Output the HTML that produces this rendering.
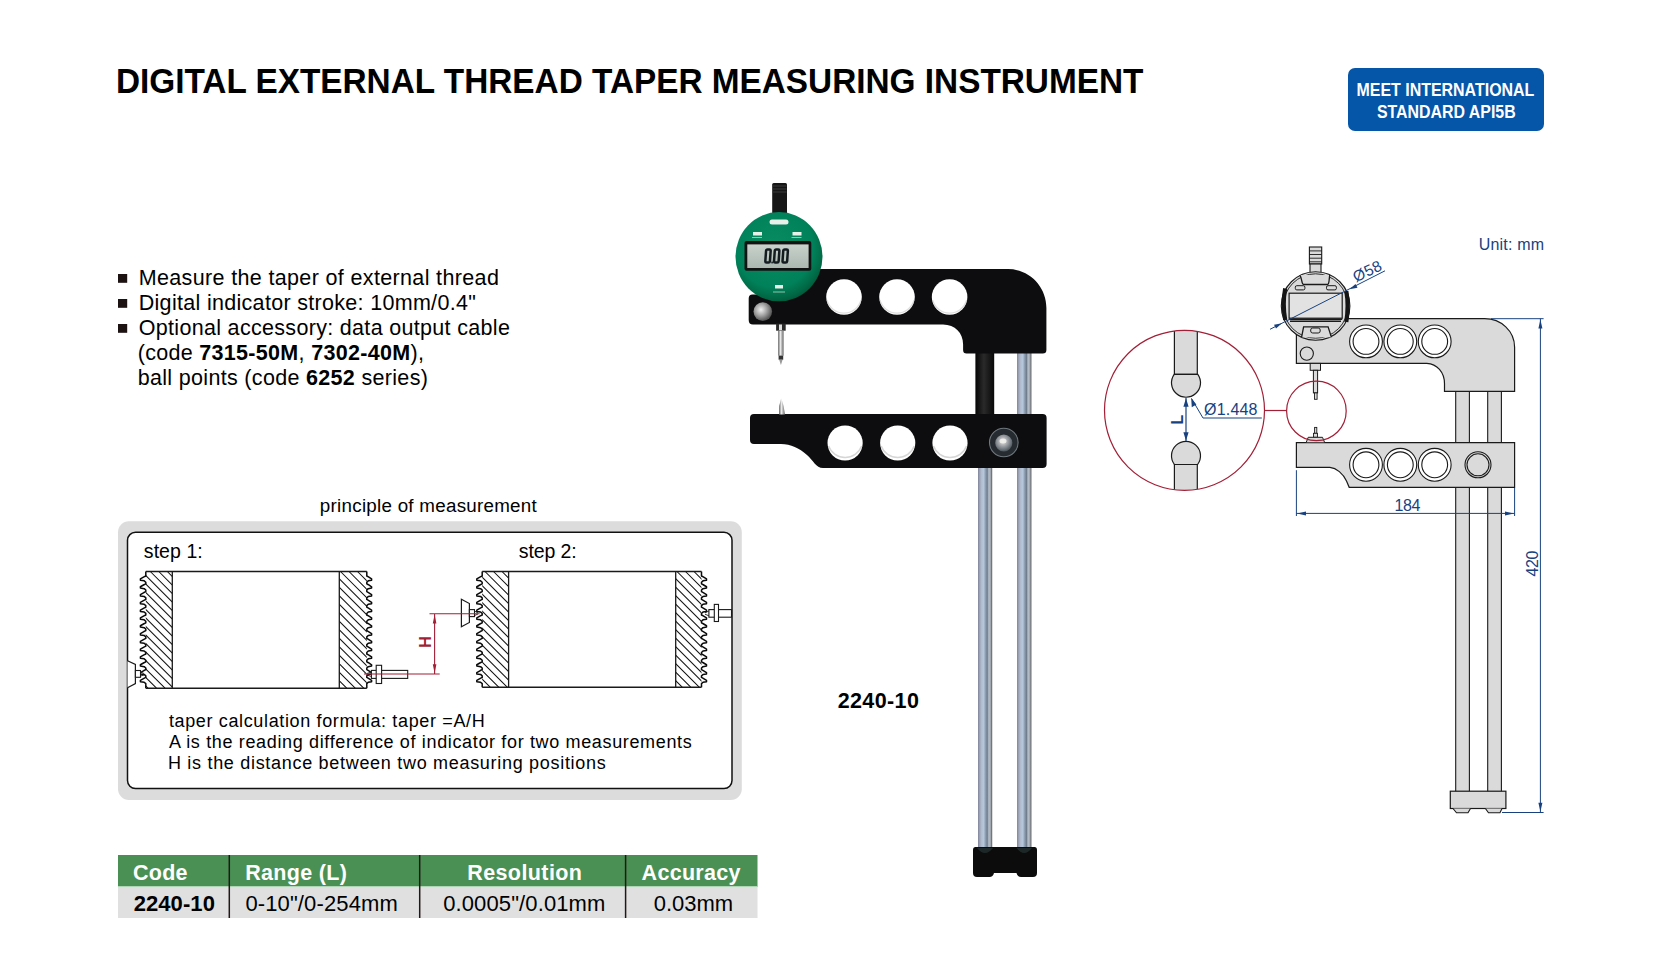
<!DOCTYPE html>
<html><head><meta charset="utf-8"><style>
html,body{margin:0;padding:0;background:#fff;overflow:hidden;width:1654px;height:964px;}
svg{display:block;font-family:"Liberation Sans", sans-serif;}
</style></head><body>
<svg width="1654" height="964" viewBox="0 0 1654 964">
<defs>
<linearGradient id="chrome" x1="0" y1="0" x2="1" y2="0">
 <stop offset="0" stop-color="#80839a"/><stop offset="0.12" stop-color="#9ea4b6"/>
 <stop offset="0.25" stop-color="#b2bdd0"/><stop offset="0.4" stop-color="#b6c8dc"/>
 <stop offset="0.5" stop-color="#94a4b8"/><stop offset="0.65" stop-color="#6f7d8d"/>
 <stop offset="0.76" stop-color="#b8c0cc"/><stop offset="0.88" stop-color="#a0a6ae"/>
 <stop offset="0.95" stop-color="#6e7276"/><stop offset="1" stop-color="#8a8a8a"/></linearGradient>
<linearGradient id="blackcol" x1="0" y1="0" x2="1" y2="0">
 <stop offset="0" stop-color="#050505"/><stop offset="0.45" stop-color="#2a2a2a"/><stop offset="1" stop-color="#080808"/></linearGradient>
<radialGradient id="dialg" cx="0.45" cy="0.4" r="0.62">
 <stop offset="0" stop-color="#0a8c62"/><stop offset="0.72" stop-color="#008159"/><stop offset="0.9" stop-color="#006a46"/><stop offset="1" stop-color="#00583a"/></radialGradient>
<linearGradient id="lcd" x1="0" y1="0" x2="0" y2="1">
 <stop offset="0" stop-color="#c9d2cc"/><stop offset="1" stop-color="#aab8b0"/></linearGradient>
<radialGradient id="screw" cx="0.4" cy="0.4" r="0.6">
 <stop offset="0" stop-color="#f0f0f0"/><stop offset="0.5" stop-color="#a8a8a8"/><stop offset="1" stop-color="#555"/></radialGradient>
<radialGradient id="bolt" cx="0.5" cy="0.5" r="0.5">
 <stop offset="0" stop-color="#c8c8c8"/><stop offset="0.45" stop-color="#8a8a8a"/><stop offset="0.8" stop-color="#3a3a3a"/><stop offset="1" stop-color="#6a6a6a"/></radialGradient>
<radialGradient id="bolt2" cx="0.45" cy="0.4" r="0.6">
 <stop offset="0" stop-color="#e8e6e0"/><stop offset="0.5" stop-color="#9a9ea4"/><stop offset="1" stop-color="#4c555c"/></radialGradient>
<linearGradient id="pin" x1="0" y1="0" x2="1" y2="0">
 <stop offset="0" stop-color="#555"/><stop offset="0.4" stop-color="#eee"/><stop offset="1" stop-color="#666"/></linearGradient>
</defs>
<text x="115.93" y="92.8" font-size="34.5" font-weight="bold" textLength="1027.45" lengthAdjust="spacingAndGlyphs">DIGITAL EXTERNAL THREAD TAPER MEASURING INSTRUMENT</text>
<rect x="1348" y="68" width="196" height="63" rx="7" fill="#0555a8"/>
<text x="1356.49" y="95.6" font-size="18.5" font-weight="bold" fill="#fff" textLength="177.85" lengthAdjust="spacingAndGlyphs">MEET INTERNATIONAL</text>
<text x="1376.89" y="118.4" font-size="18.5" font-weight="bold" fill="#fff" textLength="138.85" lengthAdjust="spacingAndGlyphs">STANDARD API5B</text>
<rect x="118" y="274" width="9.2" height="8.8" fill="#1c1212"/>
<rect x="118" y="299" width="9.2" height="8.8" fill="#1c1212"/>
<rect x="118" y="324" width="9.2" height="8.8" fill="#1c1212"/>
<text x="138.71" y="284.9" font-size="21.5" textLength="360.15" lengthAdjust="spacing">Measure the taper of external thread</text>
<text x="138.71" y="309.7" font-size="21.5" textLength="337.15" lengthAdjust="spacing">Digital indicator stroke: 10mm/0.4"</text>
<text x="138.71" y="334.6" font-size="21.5" textLength="371.15" lengthAdjust="spacing">Optional accessory: data output cable</text>
<text x="137.71" y="359.7" font-size="21.5" textLength="286.15" lengthAdjust="spacing">(code <tspan font-weight="bold">7315-50M</tspan>, <tspan font-weight="bold">7302-40M</tspan>),</text>
<text x="137.71" y="384.8" font-size="21.5" textLength="290.15" lengthAdjust="spacing">ball points (code <tspan font-weight="bold">6252</tspan> series)</text>
<text x="319.87" y="511.5" font-size="18.8" textLength="216.88" lengthAdjust="spacing">principle of measurement</text>
<rect x="118" y="521.2" width="623.8" height="278.8" rx="11" fill="#dcdcdc"/>
<rect x="127.5" y="532.3" width="604.5" height="256.3" rx="8" fill="#fff" stroke="#111" stroke-width="1.5"/>
<text x="143.83" y="557.6" font-size="19.5" textLength="58.95" lengthAdjust="spacing">step 1:</text>
<text x="518.83" y="557.6" font-size="19.5" textLength="57.95" lengthAdjust="spacing">step 2:</text>
<text x="168.92" y="726.5" font-size="18" textLength="315.8" lengthAdjust="spacing">taper calculation formula: taper =A/H</text>
<text x="168.92" y="747.5" font-size="18" textLength="522.8" lengthAdjust="spacing">A is the reading difference of indicator for two measurements</text>
<text x="167.92" y="769.3" font-size="18" textLength="437.8" lengthAdjust="spacing">H is the distance between two measuring positions</text>
<clipPath id="w1"><rect x="145.8" y="571.5" width="26.5" height="116.7"/></clipPath>
<path clip-path="url(#w1)" d="M22.8,571.5 l116.7,116.7 M31.3,571.5 l116.7,116.7 M39.8,571.5 l116.7,116.7 M48.3,571.5 l116.7,116.7 M56.8,571.5 l116.7,116.7 M65.3,571.5 l116.7,116.7 M73.8,571.5 l116.7,116.7 M82.3,571.5 l116.7,116.7 M90.8,571.5 l116.7,116.7 M99.3,571.5 l116.7,116.7 M107.8,571.5 l116.7,116.7 M116.3,571.5 l116.7,116.7 M124.8,571.5 l116.7,116.7 M133.3,571.5 l116.7,116.7 M141.8,571.5 l116.7,116.7 M150.3,571.5 l116.7,116.7 M158.8,571.5 l116.7,116.7 M167.3,571.5 l116.7,116.7" stroke="#111" stroke-width="1.05" fill="none"/>
<line x1="172.3" y1="571.5" x2="172.3" y2="688.2" stroke="#1a1a1a" stroke-width="1.3"/>
<path d="M145.8,571.5 L145.8,576 L143.91,576.94 L140.4,578.96 L140.4,580.29 L144.18,580.84 L145.8,582.24 L145.8,583.8 L143.91,584.74 L140.4,586.76 L140.4,588.09 L144.18,588.64 L145.8,590.04 L145.8,591.6 L143.91,592.54 L140.4,594.56 L140.4,595.89 L144.18,596.44 L145.8,597.84 L145.8,599.4 L143.91,600.34 L140.4,602.36 L140.4,603.69 L144.18,604.24 L145.8,605.64 L145.8,607.2 L143.91,608.14 L140.4,610.16 L140.4,611.49 L144.18,612.04 L145.8,613.44 L145.8,615 L143.91,615.94 L140.4,617.96 L140.4,619.29 L144.18,619.84 L145.8,621.24 L145.8,622.8 L143.91,623.74 L140.4,625.76 L140.4,627.09 L144.18,627.64 L145.8,629.04 L145.8,630.6 L143.91,631.54 L140.4,633.56 L140.4,634.89 L144.18,635.44 L145.8,636.84 L145.8,638.4 L143.91,639.34 L140.4,641.36 L140.4,642.69 L144.18,643.24 L145.8,644.64 L145.8,646.2 L143.91,647.14 L140.4,649.16 L140.4,650.49 L144.18,651.04 L145.8,652.44 L145.8,654 L143.91,654.94 L140.4,656.96 L140.4,658.29 L144.18,658.84 L145.8,660.24 L145.8,661.8 L143.91,662.74 L140.4,664.76 L140.4,666.09 L144.18,666.64 L145.8,668.04 L145.8,669.6 L143.91,670.54 L140.4,672.56 L140.4,673.89 L144.18,674.44 L145.8,675.84 L145.8,677.4 L143.91,678.34 L140.4,680.36 L140.4,681.69 L144.18,682.24 L145.8,683.64 L145.8,686.2 L145.8,688.2" stroke="#0a0a0a" stroke-width="1.5" fill="none" stroke-linejoin="round"/>
<clipPath id="w2"><rect x="339.3" y="571.5" width="27.5" height="116.7"/></clipPath>
<path clip-path="url(#w2)" d="M213,571.5 l116.7,116.7 M221.5,571.5 l116.7,116.7 M230,571.5 l116.7,116.7 M238.5,571.5 l116.7,116.7 M247,571.5 l116.7,116.7 M255.5,571.5 l116.7,116.7 M264,571.5 l116.7,116.7 M272.5,571.5 l116.7,116.7 M281,571.5 l116.7,116.7 M289.5,571.5 l116.7,116.7 M298,571.5 l116.7,116.7 M306.5,571.5 l116.7,116.7 M315,571.5 l116.7,116.7 M323.5,571.5 l116.7,116.7 M332,571.5 l116.7,116.7 M340.5,571.5 l116.7,116.7 M349,571.5 l116.7,116.7 M357.5,571.5 l116.7,116.7 M366,571.5 l116.7,116.7" stroke="#111" stroke-width="1.05" fill="none"/>
<line x1="339.3" y1="571.5" x2="339.3" y2="688.2" stroke="#1a1a1a" stroke-width="1.3"/>
<path d="M366.8,571.5 L366.8,576 L368.48,576.94 L371.6,578.96 L371.6,580.29 L368.24,580.84 L366.8,582.24 L366.8,583.8 L368.48,584.74 L371.6,586.76 L371.6,588.09 L368.24,588.64 L366.8,590.04 L366.8,591.6 L368.48,592.54 L371.6,594.56 L371.6,595.89 L368.24,596.44 L366.8,597.84 L366.8,599.4 L368.48,600.34 L371.6,602.36 L371.6,603.69 L368.24,604.24 L366.8,605.64 L366.8,607.2 L368.48,608.14 L371.6,610.16 L371.6,611.49 L368.24,612.04 L366.8,613.44 L366.8,615 L368.48,615.94 L371.6,617.96 L371.6,619.29 L368.24,619.84 L366.8,621.24 L366.8,622.8 L368.48,623.74 L371.6,625.76 L371.6,627.09 L368.24,627.64 L366.8,629.04 L366.8,630.6 L368.48,631.54 L371.6,633.56 L371.6,634.89 L368.24,635.44 L366.8,636.84 L366.8,638.4 L368.48,639.34 L371.6,641.36 L371.6,642.69 L368.24,643.24 L366.8,644.64 L366.8,646.2 L368.48,647.14 L371.6,649.16 L371.6,650.49 L368.24,651.04 L366.8,652.44 L366.8,654 L368.48,654.94 L371.6,656.96 L371.6,658.29 L368.24,658.84 L366.8,660.24 L366.8,661.8 L368.48,662.74 L371.6,664.76 L371.6,666.09 L368.24,666.64 L366.8,668.04 L366.8,669.6 L368.48,670.54 L371.6,672.56 L371.6,673.89 L368.24,674.44 L366.8,675.84 L366.8,677.4 L368.48,678.34 L371.6,680.36 L371.6,681.69 L368.24,682.24 L366.8,683.64 L366.8,686.2 L366.8,688.2" stroke="#0a0a0a" stroke-width="1.5" fill="none" stroke-linejoin="round"/>
<path d="M145.8,571.5 H366.8 M145.8,688.2 H366.8" stroke="#1a1a1a" stroke-width="1.4"/>
<clipPath id="w3"><rect x="482.2" y="571.5" width="26.4" height="115.7"/></clipPath>
<path clip-path="url(#w3)" d="M357.5,571.5 l115.7,115.7 M366,571.5 l115.7,115.7 M374.5,571.5 l115.7,115.7 M383,571.5 l115.7,115.7 M391.5,571.5 l115.7,115.7 M400,571.5 l115.7,115.7 M408.5,571.5 l115.7,115.7 M417,571.5 l115.7,115.7 M425.5,571.5 l115.7,115.7 M434,571.5 l115.7,115.7 M442.5,571.5 l115.7,115.7 M451,571.5 l115.7,115.7 M459.5,571.5 l115.7,115.7 M468,571.5 l115.7,115.7 M476.5,571.5 l115.7,115.7 M485,571.5 l115.7,115.7 M493.5,571.5 l115.7,115.7 M502,571.5 l115.7,115.7 M510.5,571.5 l115.7,115.7" stroke="#111" stroke-width="1.05" fill="none"/>
<line x1="508.6" y1="571.5" x2="508.6" y2="687.2" stroke="#1a1a1a" stroke-width="1.3"/>
<path d="M482.2,571.5 L482.2,576 L480.31,576.94 L476.8,578.96 L476.8,580.29 L480.58,580.84 L482.2,582.24 L482.2,583.8 L480.31,584.74 L476.8,586.76 L476.8,588.09 L480.58,588.64 L482.2,590.04 L482.2,591.6 L480.31,592.54 L476.8,594.56 L476.8,595.89 L480.58,596.44 L482.2,597.84 L482.2,599.4 L480.31,600.34 L476.8,602.36 L476.8,603.69 L480.58,604.24 L482.2,605.64 L482.2,607.2 L480.31,608.14 L476.8,610.16 L476.8,611.49 L480.58,612.04 L482.2,613.44 L482.2,615 L480.31,615.94 L476.8,617.96 L476.8,619.29 L480.58,619.84 L482.2,621.24 L482.2,622.8 L480.31,623.74 L476.8,625.76 L476.8,627.09 L480.58,627.64 L482.2,629.04 L482.2,630.6 L480.31,631.54 L476.8,633.56 L476.8,634.89 L480.58,635.44 L482.2,636.84 L482.2,638.4 L480.31,639.34 L476.8,641.36 L476.8,642.69 L480.58,643.24 L482.2,644.64 L482.2,646.2 L480.31,647.14 L476.8,649.16 L476.8,650.49 L480.58,651.04 L482.2,652.44 L482.2,654 L480.31,654.94 L476.8,656.96 L476.8,658.29 L480.58,658.84 L482.2,660.24 L482.2,661.8 L480.31,662.74 L476.8,664.76 L476.8,666.09 L480.58,666.64 L482.2,668.04 L482.2,669.6 L480.31,670.54 L476.8,672.56 L476.8,673.89 L480.58,674.44 L482.2,675.84 L482.2,677.4 L480.31,678.34 L476.8,680.36 L476.8,681.69 L480.58,682.24 L482.2,683.64 L482.2,685.2 L482.2,687.2" stroke="#0a0a0a" stroke-width="1.5" fill="none" stroke-linejoin="round"/>
<clipPath id="w4"><rect x="675.7" y="571.5" width="25.8" height="115.7"/></clipPath>
<path clip-path="url(#w4)" d="M558,571.5 l115.7,115.7 M566.5,571.5 l115.7,115.7 M575,571.5 l115.7,115.7 M583.5,571.5 l115.7,115.7 M592,571.5 l115.7,115.7 M600.5,571.5 l115.7,115.7 M609,571.5 l115.7,115.7 M617.5,571.5 l115.7,115.7 M626,571.5 l115.7,115.7 M634.5,571.5 l115.7,115.7 M643,571.5 l115.7,115.7 M651.5,571.5 l115.7,115.7 M660,571.5 l115.7,115.7 M668.5,571.5 l115.7,115.7 M677,571.5 l115.7,115.7 M685.5,571.5 l115.7,115.7 M694,571.5 l115.7,115.7 M702.5,571.5 l115.7,115.7" stroke="#111" stroke-width="1.05" fill="none"/>
<line x1="675.7" y1="571.5" x2="675.7" y2="687.2" stroke="#1a1a1a" stroke-width="1.3"/>
<path d="M701.5,571.5 L701.5,576 L703.25,576.94 L706.5,578.96 L706.5,580.29 L703,580.84 L701.5,582.24 L701.5,583.8 L703.25,584.74 L706.5,586.76 L706.5,588.09 L703,588.64 L701.5,590.04 L701.5,591.6 L703.25,592.54 L706.5,594.56 L706.5,595.89 L703,596.44 L701.5,597.84 L701.5,599.4 L703.25,600.34 L706.5,602.36 L706.5,603.69 L703,604.24 L701.5,605.64 L701.5,607.2 L703.25,608.14 L706.5,610.16 L706.5,611.49 L703,612.04 L701.5,613.44 L701.5,615 L703.25,615.94 L706.5,617.96 L706.5,619.29 L703,619.84 L701.5,621.24 L701.5,622.8 L703.25,623.74 L706.5,625.76 L706.5,627.09 L703,627.64 L701.5,629.04 L701.5,630.6 L703.25,631.54 L706.5,633.56 L706.5,634.89 L703,635.44 L701.5,636.84 L701.5,638.4 L703.25,639.34 L706.5,641.36 L706.5,642.69 L703,643.24 L701.5,644.64 L701.5,646.2 L703.25,647.14 L706.5,649.16 L706.5,650.49 L703,651.04 L701.5,652.44 L701.5,654 L703.25,654.94 L706.5,656.96 L706.5,658.29 L703,658.84 L701.5,660.24 L701.5,661.8 L703.25,662.74 L706.5,664.76 L706.5,666.09 L703,666.64 L701.5,668.04 L701.5,669.6 L703.25,670.54 L706.5,672.56 L706.5,673.89 L703,674.44 L701.5,675.84 L701.5,677.4 L703.25,678.34 L706.5,680.36 L706.5,681.69 L703,682.24 L701.5,683.64 L701.5,685.2 L701.5,687.2" stroke="#0a0a0a" stroke-width="1.5" fill="none" stroke-linejoin="round"/>
<path d="M482.2,571.5 H701.5 M482.2,687.2 H701.5" stroke="#1a1a1a" stroke-width="1.4"/>
<path d="M127.5,660.7 L135.4,664.5 V683.6 L127.5,687.8" fill="#fff" stroke="#1a1a1a" stroke-width="1.2"/>
<rect x="135.4" y="670.5" width="5.1" height="6.8" fill="#fff" stroke="#1a1a1a" stroke-width="1.1"/>
<path d="M140.5,672 L144,673.5 M140.5,676 L144,675" stroke="#1a1a1a" stroke-width="0.9"/>
<rect x="371.4" y="670.4" width="36.3" height="8" fill="#fff" stroke="#1a1a1a" stroke-width="1.1"/>
<rect x="376.2" y="665.3" width="5.4" height="18.2" fill="#fff" stroke="#1a1a1a" stroke-width="1.1"/>
<path d="M371.4,672 L367,673.5 M371.4,676.5 L367,675" stroke="#1a1a1a" stroke-width="0.9"/>
<path d="M461.4,599.2 L469.4,603.5 V622.5 L461.4,626.8 Z" fill="#fff" stroke="#1a1a1a" stroke-width="1.2"/>
<rect x="469.4" y="609.6" width="5.1" height="7" fill="#fff" stroke="#1a1a1a" stroke-width="1.1"/>
<path d="M474.5,611 L478,613 M474.5,615.5 L478,614" stroke="#1a1a1a" stroke-width="0.9"/>
<rect x="708.9" y="609.6" width="22.6" height="7.6" fill="#fff" stroke="#1a1a1a" stroke-width="1.1"/>
<rect x="714.3" y="604.4" width="4.2" height="17.1" fill="#fff" stroke="#1a1a1a" stroke-width="1.1"/>
<path d="M708.9,611 L705,612.8 M708.9,615.8 L705,614.2" stroke="#1a1a1a" stroke-width="0.9"/>
<path d="M364,674 H439.7 M429.5,613.7 H479.6 M434.6,613.7 V674" stroke="#a21f36" stroke-width="1.1" fill="none"/>
<path d="M434.6,614.5 l-1.8,9 h3.6 z M434.6,673.2 l-1.8,-9 h3.6 z" fill="#a21f36"/>
<text x="0" y="0" font-size="16" font-weight="bold" fill="#a21f36" text-anchor="middle" transform="translate(430.8,642) rotate(-90)">H</text>
<rect x="118" y="855" width="639.5" height="32" fill="#4a9054"/>
<rect x="118" y="887" width="639.5" height="31" fill="#e0e0e0"/>
<rect x="118" y="886.2" width="639.5" height="1" fill="#c8e6cc"/>
<line x1="229.3" y1="855" x2="229.3" y2="918" stroke="#231815" stroke-width="1.5"/>
<line x1="419.7" y1="855" x2="419.7" y2="918" stroke="#231815" stroke-width="1.5"/>
<line x1="625.6" y1="855" x2="625.6" y2="918" stroke="#231815" stroke-width="1.5"/>
<text x="133.01" y="879.8" font-size="21.5" font-weight="bold" fill="#fff" textLength="54.55" lengthAdjust="spacing">Code</text>
<text x="245.21" y="879.8" font-size="21.5" font-weight="bold" fill="#fff" textLength="101.75" lengthAdjust="spacing">Range (L)</text>
<text x="467.21" y="879.8" font-size="21.5" font-weight="bold" fill="#fff" textLength="114.75" lengthAdjust="spacing">Resolution</text>
<text x="641.61" y="879.8" font-size="21.5" font-weight="bold" fill="#fff" textLength="98.75" lengthAdjust="spacing">Accuracy</text>
<text x="133.68" y="910.9" font-size="22" font-weight="bold" textLength="81.2" lengthAdjust="spacing">2240-10</text>
<text x="245.38" y="910.9" font-size="22" textLength="152.4" lengthAdjust="spacing">0-10"/0-254mm</text>
<text x="443.18" y="910.9" font-size="22" textLength="162.2" lengthAdjust="spacing">0.0005"/0.01mm</text>
<text x="653.68" y="910.9" font-size="22" textLength="79.5" lengthAdjust="spacing">0.03mm</text>
<text x="837.71" y="708.4" font-size="21.5" font-weight="bold" textLength="81.15" lengthAdjust="spacing">2240-10</text>
<rect x="978" y="467" width="14.3" height="384" fill="url(#chrome)"/>
<rect x="1017" y="350" width="14.6" height="501" fill="url(#chrome)"/>
<rect x="975.4" y="350" width="18.8" height="68" fill="url(#blackcol)"/>
<path d="M975.5,847 H1034.5 Q1037,847 1037,850 V873 Q1037,877 1033,877 H1021 Q1017.5,877 1016.5,873 H994 Q993,877 989.5,877 H977 Q973,877 973,873 V850 Q973,847 975.5,847 Z" fill="#0c0c0c"/>
<path d="M977,848 Q985,858 993,848 Z M1016.6,848 Q1024,858 1032,848 Z" fill="#2a3a3a" opacity="0.6"/>
<path d="M748.7,298.5 Q748.7,294.6 752.5,294.6 L800,294.6 L800,269.1 L1008,269.1 C1030,269.1 1046.4,287 1046.4,308 L1046.4,350 Q1046.4,353.6 1042.8,353.6 L966.5,353.6 Q963.1,353.6 963.1,350 L963.1,344.5 C963.1,333 955,324.5 943,324.5 L753,324.5 Q748.7,324.5 748.7,320 Z" fill="#0d0d0f"/>
<circle cx="844" cy="297" r="17.8" fill="#fff"/>
<path d="M827,300 A17.6,17.6 0 0 0 861,300" stroke="#c8c8c8" stroke-width="1.2" fill="none" opacity="0.6"/>
<circle cx="897" cy="297" r="17.8" fill="#fff"/>
<path d="M880,300 A17.6,17.6 0 0 0 914,300" stroke="#c8c8c8" stroke-width="1.2" fill="none" opacity="0.6"/>
<circle cx="949.6" cy="297" r="17.8" fill="#fff"/>
<path d="M932.6,300 A17.6,17.6 0 0 0 966.6,300" stroke="#c8c8c8" stroke-width="1.2" fill="none" opacity="0.6"/>
<circle cx="762.8" cy="311.6" r="9.3" fill="url(#screw)"/>
<path d="M750,418 Q750,414.1 754,414.1 L1042.6,414.1 Q1046.6,414.1 1046.6,418 L1046.6,464 Q1046.6,468 1042.6,468 L823,468 C816,468 813,460 807,455 C799,448 791,444 781,444 L754,444 Q750,444 750,440 Z" fill="#0d0d0f"/>
<circle cx="845.1" cy="443" r="17.6" fill="#fff"/>
<path d="M828.6,446 A17.6,17.6 0 0 0 861.6,446" stroke="#bbb" stroke-width="1.5" fill="none" opacity="0.6"/>
<circle cx="897.7" cy="443" r="17.6" fill="#fff"/>
<path d="M881.2,446 A17.6,17.6 0 0 0 914.2,446" stroke="#bbb" stroke-width="1.5" fill="none" opacity="0.6"/>
<circle cx="950" cy="443" r="17.6" fill="#fff"/>
<path d="M933.5,446 A17.6,17.6 0 0 0 966.5,446" stroke="#bbb" stroke-width="1.5" fill="none" opacity="0.6"/>
<circle cx="1003.8" cy="442.5" r="14.3" fill="#252b30" stroke="#6f787e" stroke-width="1.1"/>
<circle cx="1003.8" cy="443" r="8.6" fill="url(#bolt2)"/>
<ellipse cx="1003" cy="441" rx="3.5" ry="2.5" fill="#f2f2ee" opacity="0.85"/>
<rect x="776.1" y="323.6" width="9.6" height="7.1" fill="#2a2a2a"/>
<rect x="779" y="324.5" width="3" height="5.5" fill="#ddd"/>
<rect x="778.2" y="330.7" width="5.4" height="25" fill="url(#pin)"/>
<rect x="778.6" y="355.6" width="4.6" height="4.1" fill="#333"/>
<path d="M779.2,359.7 L780.9,365 L782.6,359.7 Z" fill="#999"/>
<path d="M779,414.5 L779.2,406 L781.2,398.3 L783.6,406 L785,414.5 Z" fill="url(#pin)"/>
<rect x="772.2" y="183" width="14.8" height="31" rx="1.5" fill="#161616"/>
<path d="M772.5,186 H786.7 M772.5,189 H786.7 M772.5,192 H786.7" stroke="#3a3a3a" stroke-width="1"/>
<ellipse cx="779" cy="256.7" rx="43.5" ry="44.6" fill="url(#dialg)"/>
<rect x="744.5" y="241" width="66.8" height="29.7" rx="2" fill="#121212"/>
<rect x="747.3" y="244.4" width="61.3" height="23.6" fill="url(#lcd)"/>
<rect x="783.6" y="249.4" width="4.6" height="13.1" rx="1.3" fill="none" stroke="#141c20" stroke-width="2.5" transform="skewX(-4)"/>
<rect x="792.3000000000001" y="249.4" width="4.6" height="13.1" rx="1.3" fill="none" stroke="#141c20" stroke-width="2.5" transform="skewX(-4)"/>
<rect x="800.8000000000001" y="249.4" width="4.6" height="13.1" rx="1.3" fill="none" stroke="#141c20" stroke-width="2.5" transform="skewX(-4)"/>
<rect x="771.3" y="261.6" width="1.6" height="1.8" fill="#141c20"/>
<rect x="769.5" y="219.5" width="19" height="5" rx="2.5" fill="#e8f0ea"/>
<rect x="753" y="232" width="9" height="3.5" fill="#e8f0ea"/><rect x="792.5" y="232" width="9" height="3.5" fill="#e8f0ea"/>
<rect x="775" y="285" width="8" height="3.5" fill="#e8f0ea"/>
<path d="M752,237.5 H762 M791.5,237.5 H801.5 M773,292 H785" stroke="#cfe3d6" stroke-width="1" opacity="0.7"/>
<text x="1478.7" y="249.8" font-size="16" fill="#18427f" textLength="65.3" lengthAdjust="spacing">Unit: mm</text>
<rect x="1455.7" y="388" width="13.7" height="404" fill="#dadada" stroke="#1a1a1a" stroke-width="1.1"/>
<rect x="1487.7" y="388" width="13.7" height="404" fill="#dadada" stroke="#1a1a1a" stroke-width="1.1"/>
<rect x="1450.3" y="791.2" width="55.6" height="17.3" fill="#dadada" stroke="#1a1a1a" stroke-width="1.2"/>
<path d="M1453,808.5 L1456.5,812.8 H1468 L1470.5,808.5 M1485.4,808.5 L1488.5,812.8 H1500 L1502,808.5" fill="#dadada" stroke="#1a1a1a" stroke-width="1.1"/>
<path d="M1296.4,318.7 L1484.7,318.7 C1501,318.7 1514.6,331 1514.6,347.3 L1514.6,391.3 L1444.5,391.3 L1444.5,383.8 C1444.5,372 1437,364 1426.8,363.3 L1296.4,363.3 Z" fill="#dadada" stroke="#1a1a1a" stroke-width="1.2"/>
<circle cx="1366" cy="341.4" r="16.4" fill="#fff" stroke="#1a1a1a" stroke-width="1.1"/>
<circle cx="1366" cy="341.4" r="12.9" fill="none" stroke="#1a1a1a" stroke-width="1.1"/>
<circle cx="1400.3" cy="341.4" r="16.4" fill="#fff" stroke="#1a1a1a" stroke-width="1.1"/>
<circle cx="1400.3" cy="341.4" r="12.9" fill="none" stroke="#1a1a1a" stroke-width="1.1"/>
<circle cx="1434.7" cy="341.4" r="16.4" fill="#fff" stroke="#1a1a1a" stroke-width="1.1"/>
<circle cx="1434.7" cy="341.4" r="12.9" fill="none" stroke="#1a1a1a" stroke-width="1.1"/>
<circle cx="1306.8" cy="353.6" r="6.6" fill="#dadada" stroke="#1a1a1a" stroke-width="1.1"/>
<path d="M1296.4,442.6 L1514.6,442.6 L1514.6,487.3 L1349.2,487.3 L1346.5,481 C1343,473.5 1336.5,468 1329.9,467.4 L1296.4,467.4 Z" fill="#dadada" stroke="#1a1a1a" stroke-width="1.2"/>
<circle cx="1366" cy="464.8" r="16.4" fill="#fff" stroke="#1a1a1a" stroke-width="1.1"/>
<circle cx="1366" cy="464.8" r="12.9" fill="none" stroke="#1a1a1a" stroke-width="1.1"/>
<circle cx="1400.3" cy="464.8" r="16.4" fill="#fff" stroke="#1a1a1a" stroke-width="1.1"/>
<circle cx="1400.3" cy="464.8" r="12.9" fill="none" stroke="#1a1a1a" stroke-width="1.1"/>
<circle cx="1434.7" cy="464.8" r="16.4" fill="#fff" stroke="#1a1a1a" stroke-width="1.1"/>
<circle cx="1434.7" cy="464.8" r="12.9" fill="none" stroke="#1a1a1a" stroke-width="1.1"/>
<circle cx="1478" cy="464.8" r="13" fill="#dadada" stroke="#1a1a1a" stroke-width="1.1"/>
<circle cx="1478" cy="464.8" r="11" fill="none" stroke="#1a1a1a" stroke-width="1.1"/>
<rect x="1310.2" y="363.4" width="10.3" height="6.9" fill="#dadada" stroke="#1a1a1a" stroke-width="1"/>
<rect x="1313.4" y="370.3" width="4.2" height="22.6" fill="#dadada" stroke="#1a1a1a" stroke-width="1"/>
<rect x="1314.5" y="392.9" width="2.6" height="6.4" fill="#dadada" stroke="#1a1a1a" stroke-width="0.9"/>
<rect x="1314.6" y="427.4" width="2.2" height="5.9" fill="#dadada" stroke="#1a1a1a" stroke-width="0.9"/>
<rect x="1313.5" y="433.3" width="4" height="4" fill="#dadada" stroke="#1a1a1a" stroke-width="0.9"/>
<path d="M1306.3,442.2 L1308.2,437.3 H1322.5 L1324.5,442.2" fill="#dadada" stroke="#1a1a1a" stroke-width="1"/>
<rect x="1309.4" y="247" width="12.3" height="17" fill="#dadada" stroke="#1a1a1a" stroke-width="1.1"/>
<rect x="1310" y="264" width="11" height="9" fill="#dadada" stroke="#1a1a1a" stroke-width="1.1"/>
<path d="M1309.4,250.9 H1321.7 M1309.4,254.5 H1321.7 M1309.4,258.2 H1321.7 M1309.4,261.8 H1321.7" stroke="#1a1a1a" stroke-width="0.9"/>
<circle cx="1315.6" cy="306" r="34.3" fill="#dadada" stroke="#1a1a1a" stroke-width="1.1"/>
<circle cx="1315.6" cy="306" r="32.2" fill="none" stroke="#1a1a1a" stroke-width="0.9"/>
<path d="M1299.9,275 C1302,278 1301.5,284.5 1303.5,284.5 H1327.5 C1329.5,284.5 1329,278 1329.8,275" fill="#dadada" stroke="#1a1a1a" stroke-width="1.3"/>
<rect x="1295.3" y="285.7" width="9.6" height="4.2" rx="1.5" fill="#dadada" stroke="#1a1a1a" stroke-width="1"/>
<rect x="1326.5" y="285.7" width="9.9" height="4.2" rx="1.5" fill="#dadada" stroke="#1a1a1a" stroke-width="1"/>
<rect x="1289.1" y="293.2" width="53.1" height="25" fill="#e2e2e2" stroke="#1a1a1a" stroke-width="1.2"/>
<path d="M1289.1,319.3 H1342.2 M1290,321.3 H1341" stroke="#1a1a1a" stroke-width="1.6"/>
<path d="M1285.2,288.5 C1283.6,297 1283.6,311 1285.2,320 M1346.3,291 C1347.9,300 1347.9,312 1346.3,322" stroke="#151515" stroke-width="4.2" fill="none"/>
<path d="M1301.6,337.2 L1303.6,326.8 H1328.1 L1331.4,337.2" fill="#dadada" stroke="#1a1a1a" stroke-width="1.3"/>
<rect x="1310.7" y="328" width="9.5" height="5" rx="2" fill="#dadada" stroke="#1a1a1a" stroke-width="1"/>
<path d="M1270,329.3 L1385,270.8" stroke="#18427f" stroke-width="1"/>
<path d="M1282,323.2 l-8,1.5 l2,3.8 z M1349.5,289.2 l8,-1.5 l-2,-3.8 z" fill="#18427f"/>
<text x="0" y="0" font-size="15.5" fill="#18427f" textLength="30" lengthAdjust="spacing" transform="translate(1356,282.5) rotate(-26)">Ø58</text>
<path d="M1296.4,470.2 V516 M1514.6,488 V516 M1296.4,513.4 H1514.6" stroke="#18427f" stroke-width="1"/>
<path d="M1297,513.4 l9,-2 v4 z M1514,513.4 l-9,-2 v4 z" fill="#18427f"/>
<text x="1407.5" y="511" font-size="16" fill="#18427f" textLength="26" lengthAdjust="spacing" text-anchor="middle">184</text>
<path d="M1491,318.7 H1543.6 M1502,812.5 H1543.6 M1540.4,318.7 V812.5" stroke="#18427f" stroke-width="1"/>
<path d="M1540.4,319.5 l-2,9 h4 z M1540.4,811.7 l-2,-9 h4 z" fill="#18427f"/>
<text x="0" y="0" font-size="16" fill="#18427f" textLength="26" lengthAdjust="spacing" text-anchor="middle" transform="translate(1537.5,563.5) rotate(-90)">420</text>
<circle cx="1316.4" cy="410.9" r="29.8" fill="none" stroke="#a21f36" stroke-width="1.2"/>
<line x1="1264.6" y1="410.5" x2="1286.6" y2="410.5" stroke="#a21f36" stroke-width="1.2"/>
<clipPath id="bigc"><circle cx="1184.5" cy="410.3" r="80"/></clipPath>
<g clip-path="url(#bigc)">
<path d="M1174.4,320 V374.3 H1197.3 V320" fill="#dadada" stroke="#1a1a1a" stroke-width="1.2"/>
<path d="M1174.4,500 V464.5 H1197.3 V500" fill="#dadada" stroke="#1a1a1a" stroke-width="1.2"/>
</g>
<path d="M1174.2,374.3 A14.5,14.5 0 1 0 1197.8,374.3 Z" fill="#dadada" stroke="#1a1a1a" stroke-width="1.2"/>
<path d="M1174.4,464.5 A14.5,14.5 0 1 1 1197.6,464.5 Z" fill="#dadada" stroke="#1a1a1a" stroke-width="1.2"/>
<circle cx="1184.5" cy="410.3" r="80" fill="none" stroke="#a21f36" stroke-width="1.2"/>
<path d="M1186,398 V441" stroke="#18427f" stroke-width="1.2"/>
<path d="M1186,398.3 l-2.6,8.5 h5.2 z M1186,440.8 l-2.6,-8.5 h5.2 z" fill="#18427f"/>
<text x="0" y="0" font-size="16" font-weight="bold" fill="#18427f" text-anchor="middle" transform="translate(1182.5,419.5) rotate(-90)">L</text>
<path d="M1191.5,398.5 L1203,418 H1261.8" stroke="#18427f" stroke-width="1" fill="none"/>
<path d="M1191.2,398 l0.6,9.2 l4.6,-2.6 z" fill="#18427f"/>
<text x="1204" y="415.2" font-size="16" fill="#18427f" textLength="53.5" lengthAdjust="spacing">Ø1.448</text>
</svg>
</body></html>
